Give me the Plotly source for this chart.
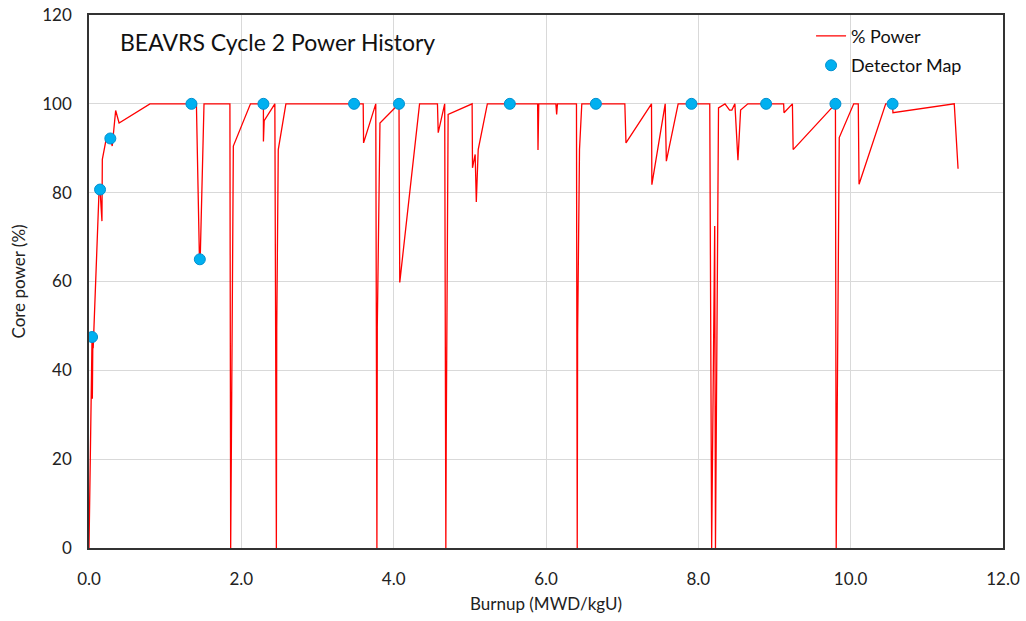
import plotly.graph_objects as go

# % Power line (burnup MWD/kgU, core power %)
burnup = [0.0, 0.032, 0.04, 0.044, 0.05, 0.055, 0.13, 0.145, 0.17, 0.175, 0.225, 0.28, 0.305, 0.35, 0.395,
          0.80, 1.41, 1.45, 1.46, 1.51, 1.85, 1.86, 1.87, 1.895, 2.12, 2.29, 2.29, 2.30, 2.44, 2.46, 2.465,
          2.485, 2.585, 3.60, 3.605, 3.765, 3.78, 3.785, 3.82, 4.07, 4.08, 4.34, 4.575, 4.585, 4.67, 4.685,
          4.69, 4.715, 5.03, 5.035, 5.07, 5.085, 5.11, 5.23, 5.89, 5.895, 5.905, 6.13, 6.14, 6.15, 6.40,
          6.41, 6.415, 6.44, 6.47, 7.035, 7.05, 7.385, 7.39, 7.565, 7.58, 7.735, 8.15, 8.175, 8.215, 8.225,
          8.265, 8.35, 8.41, 8.44, 8.48, 8.52, 8.555, 8.65, 9.12, 9.125, 9.235, 9.245, 9.80, 9.81, 9.85,
          10.04, 10.10, 10.11, 10.46, 10.55, 10.555, 11.36, 11.41]
power = [0, 45, 47.5, 33.6, 46, 45, 79.5, 80.7, 73.6, 87.5, 92, 92.2, 90.5, 98.5, 95.7,
         100, 100, 65, 65, 100, 100, 0, 24.6, 90.5, 100, 100, 91.5, 96.2, 100, 0, 49.7,
         89.7, 100, 100, 91.2, 100, 0, 49.7, 95.7, 100, 59.8, 100, 100, 93.5, 100, 0,
         24, 97.6, 100, 85.6, 88.6, 77.9, 89.7, 100, 100, 89.6, 100, 100, 97.6, 100, 100,
         0, 48.2, 89.7, 100, 100, 91.2, 100, 81.8, 100, 87.1, 100, 100, 0, 72.5, 0,
         99.1, 100, 98.6, 98.6, 100, 87.3, 98.6, 100, 100, 98, 100, 89.7, 100, 0, 92.4,
         100, 100, 81.9, 100, 100, 98, 100, 85.4]

# Detector map points
det_burnup = [0.04, 0.145, 0.28, 1.345, 1.455, 2.29, 3.48, 4.07, 5.525, 6.655, 7.91, 8.89, 9.80, 10.55]
det_power = [47.5, 80.7, 92.2, 100, 65, 100, 100, 100, 100, 100, 100, 100, 100, 100]

x_ticks = [0, 2, 4, 6, 8, 10, 12]
x_labels = ["0.0", "2.0", "4.0", "6.0", "8.0", "10.0", "12.0"]
y_ticks = [0, 20, 40, 60, 80, 100, 120]

FONT = "Lato, Open Sans, sans-serif"

fig = go.Figure()
fig.add_trace(go.Scatter(x=burnup, y=power, mode="lines", name="% Power", legendgroup="a",
                         line=dict(color="#FF0000", width=1.3)))
fig.add_trace(go.Scatter(x=det_burnup, y=det_power, mode="markers", name="Detector Map", legendgroup="b",
                         marker=dict(color="#00B0F0", size=11, line=dict(color="#0090D0", width=1))))

fig.update_layout(
    width=1026, height=621,
    margin=dict(l=89, r=23, t=15, b=73, autoexpand=False),
    paper_bgcolor="white", plot_bgcolor="white",
    font=dict(family=FONT, size=17, color="#222222"),
    showlegend=True,
    legend=dict(x=0.79, y=0.995, xanchor="left", yanchor="top", bgcolor="rgba(255,255,255,0)",
                font=dict(size=18, color="#111111"), itemwidth=30, tracegroupgap=3),
    annotations=[dict(text="BEAVRS Cycle 2 Power History", x=0.032, y=0.95, xref="paper", yref="paper",
                      xanchor="left", yanchor="middle", showarrow=False,
                      font=dict(size=23, color="#111111", family=FONT))],
)
fig.update_xaxes(range=[0, 12], tickvals=x_ticks, ticktext=x_labels, showgrid=True, gridcolor="#D9D9D9",
                 gridwidth=1, showline=True, linecolor="#333333", linewidth=1.5, mirror=True, zeroline=False,
                 ticks="outside", ticklen=15, tickcolor="rgba(0,0,0,0)", automargin=False,
                 ticklabeloverflow="allow",
                 title=dict(text="Burnup (MWD/kgU)", font=dict(size=17), standoff=10),
                 tickfont=dict(size=17))
fig.update_yaxes(range=[0, 120], tickvals=y_ticks, showgrid=True, gridcolor="#D9D9D9", gridwidth=1,
                 showline=True, linecolor="#333333", linewidth=1.5, mirror=True, zeroline=False,
                 ticks="outside", ticklen=12, tickcolor="rgba(0,0,0,0)", automargin=False,
                 ticklabeloverflow="allow",
                 title=dict(text="Core power (%)", font=dict(size=17), standoff=12), tickfont=dict(size=17))

fig.write_html("out.html", config={"displayModeBar": False},
               post_script="document.body.style.margin='0';document.body.style.overflow='hidden';")
